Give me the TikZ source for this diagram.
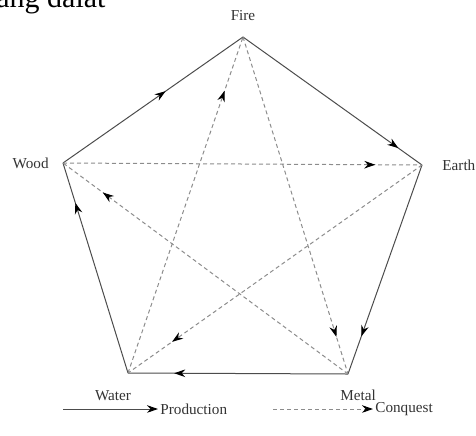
\documentclass[tikz,border=0pt]{standalone}
\usepackage{fontspec}
\setmainfont{Liberation Serif}
\usetikzlibrary{positioning,arrows.meta,decorations.markings}

\begin{document}
\begin{tikzpicture}[
    x=0.5pt, y=-0.5pt,
    lbl/.style={
        font=\fontsize{7.6}{9}\selectfont,
        text=black!80,
        inner sep=1pt
    },
    prodline/.style={
        draw=black!70,
        line width=0.5pt
    },
    conqline/.style={
        draw=black!45,
        line width=0.5pt,
        dash pattern=on 2pt off 1.5pt
    },
    tip/.style={
        -{Stealth[length=5.5pt,width=3.8pt,color=black]}
    },
    midtip/.style={
        postaction={decorate, decoration={markings,
            mark=at position #1 with {\arrow{Stealth[length=5.5pt,width=3.8pt,color=black]}}}}
    }
]
\useasboundingbox (0,0) rectangle (476,435);
% cut-off line of the page above
\node[anchor=base west, inner sep=0pt, font=\fontsize{15}{17}\selectfont] (frag) at (-4,7) {ang dalat};
% the five elements
\coordinate (fire) at (243,37);
\coordinate (earth) at (422,165);
\coordinate (metal) at (348,374);
\coordinate (water) at (128,373);
\coordinate (wood) at (63,163);
\node[lbl, above=7pt of fire] (firelbl) {Fire};
\node[lbl, right=9pt of earth] (earthlbl) {Earth};
\node[lbl, below=7pt of metal, xshift=5pt] (metallbl) {Metal};
\node[lbl, below=7.5pt of water, xshift=-7.5pt] (waterlbl) {Water};
\node[lbl, left=6pt of wood] (woodlbl) {Wood};
% production cycle
\draw[prodline, midtip=0.57] (wood) -- (fire);
\draw[prodline, midtip=0.87] (fire) -- (earth);
\draw[prodline, midtip=0.82] (earth) -- (metal);
\draw[prodline, midtip=0.79] (metal) -- (water);
\draw[prodline, midtip=0.81] (water) -- (wood);
% conquest cycle
\draw[conqline, midtip=0.87] (wood) -- (earth);
\draw[conqline, midtip=0.85] (earth) -- (water);
\draw[conqline, midtip=0.84] (water) -- (fire);
\draw[conqline, midtip=0.89] (fire) -- (metal);
\draw[conqline, midtip=0.86] (metal) -- (wood);
% legend
\coordinate (prodstart) at (63,409);
\node[lbl, anchor=west] (prodlbl) at (158,409) {Production};
\draw[prodline, tip] (prodstart) -- (prodlbl.west);
\coordinate (conqstart) at (273,409);
\node[lbl, anchor=west] (conqlbl) at (373,409) {Conquest};
\draw[conqline, tip] (conqstart) -- (conqlbl.west);
\end{tikzpicture}
\end{document}
